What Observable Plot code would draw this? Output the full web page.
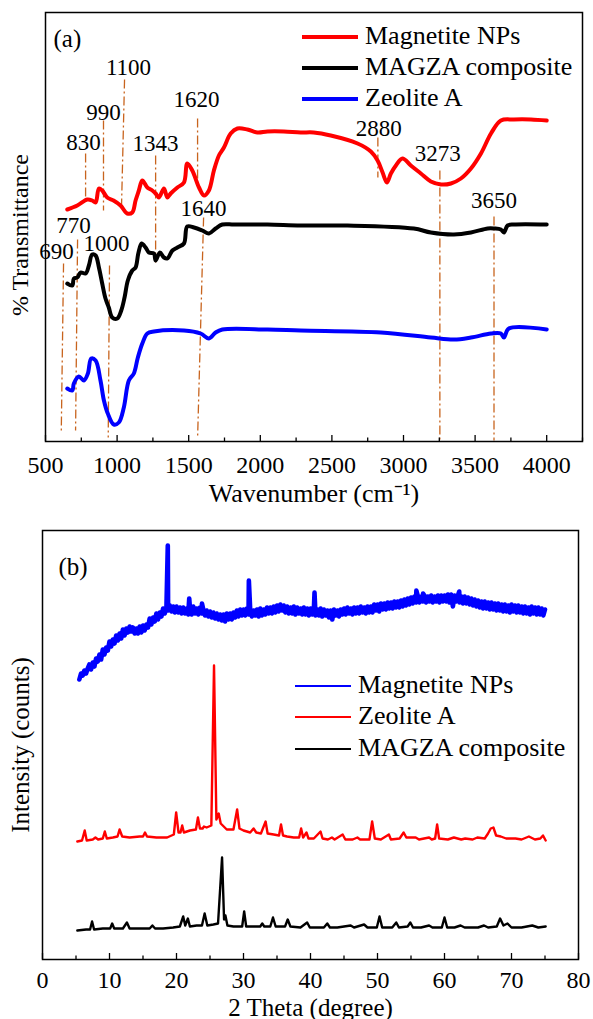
<!DOCTYPE html>
<html>
<head>
<meta charset="utf-8">
<script src="https://cdn.jsdelivr.net/npm/d3@7"></script>
<script src="https://cdn.jsdelivr.net/npm/@observablehq/plot@0.6"></script>
<style>
  body { margin: 0; background: #fff; }
  #wrap { position: relative; width: 593px; height: 1019px; overflow: hidden;
          font-family: "Liberation Serif", "Times New Roman", serif; color: #000; }
  #wrap svg { display: block; }
  .row { position: absolute; white-space: nowrap; font-size: 26px; line-height: 26px; }
  .row .sw { position: absolute; left: 0; width: 56px; }
  .row .t { position: absolute; top: -14px; }
</style>
</head>
<body>
<div id="wrap"></div>
<script>
// ---------------- Panel (a): FTIR ----------------
const ftirSeriesNames = ["Magnetite NPs", "MAGZA composite", "Zeolite A"];
const ftirColors = ["#ff0000", "#000000", "#0000ff"];
const ftirTicks = [500, 1000, 1500, 2000, 2500, 3000, 3500, 4000];
const ftirMinorTicks = [750, 1250, 1750, 2250, 2750, 3250, 3750, 4250];

// [wavenumber (cm-1), % transmittance (a.u., offset)]
const ftirMagnetite = [[652,232],[722,236],[792,242],[826,241],[850,239],[873,253],[896,251],[931,244],[975,241],[1024,236],[1071,228],[1106,229],[1129,241],[1152,251],[1176,261],[1211,254],[1246,251],[1269,248],[1292,244],[1327,253],[1351,244],[1374,248],[1421,254],[1467,259],[1490,278],[1525,271],[1572,254],[1607,246],[1641,251],[1676,271],[1711,286],[1746,294],[1793,308],[1840,313],[1910,312],[1980,309],[2050,310],[2164,310],[2282,309],[2373,309],[2492,306],[2679,298],[2772,290],[2819,281],[2854,269],[2884,259],[2912,268],[2947,276],[2993,283],[3051,276],[3121,268],[3191,260],[3261,257],[3331,258],[3401,263],[3471,273],[3541,288],[3611,308],[3680,321],[3771,322],[3890,322],[4000,321]];
const ftirMagza = [[652,158],[687,156],[698,163],[722,164],[745,169],[780,168],[803,176],[826,187],[850,186],[873,174],[896,158],[919,143],[942,134],[966,124],[1001,123],[1029,131],[1052,144],[1075,161],[1106,171],[1129,174],[1148,188],[1171,198],[1199,194],[1222,189],[1257,188],[1269,181],[1299,189],[1327,184],[1351,183],[1386,191],[1421,194],[1467,198],[1490,215],[1537,214],[1595,211],[1641,208],[1688,213],[1735,217],[1816,217],[2050,217],[2282,216],[2609,216],[3072,213],[3191,209],[3352,207],[3471,209],[3588,213],[3632,213],[3680,212],[3701,209],[3727,216],[3771,217],[4000,217]];
const ftirZeolite = [[652,53],[687,51],[698,58],[733,65],[768,61],[796,68],[819,83],[850,81],[884,61],[908,41],[935,28],[977,17],[1012,19],[1047,34],[1082,61],[1117,68],[1145,84],[1176,98],[1211,108],[1257,110],[1467,111],[1583,108],[1641,103],[1688,109],[1735,112],[2050,112],[2282,111],[2842,109],[3191,104],[3352,102],[3471,104],[3611,108],[3680,108],[3701,104],[3736,113],[4000,112]];

// band annotations: label, line top (wn, T), line bottom (wn, T), label anchor (wn, T)
const bandLabels   = ["830","990","1100","1343","1620","1640","2880","3273","3650","690","770","1000"];
const bandTopWn    = [780, 905, 1052, 1269, 1562, 1604, 2821, 3254, 3632, 626, 724, 947];
const bandTopT     = [288, 321, 362, 286, 323, 224, 304, 271, 225, 178, 202, 176];
const bandBottomWn = [780, 905, 1031, 1269, 1562, 1562, 2821, 3254, 3632, 610, 710, 938];
const bandBottomT  = [244, 231, 236, 179, 254, 3, 264, 1, 1, 8, 11, 4];
const bandLabelWn  = [766, 905, 1080, 1269, 1555, 1604, 2828, 3240, 3632, 577, 696, 926];
const bandLabelT   = [299, 329, 374, 298, 342, 233, 313, 288, 241, 190, 216, 198];

// ---------------- Panel (b): XRD ----------------
const xrdSeriesNames = ["Magnetite NPs", "Zeolite A", "MAGZA composite"];
const xrdColors = ["#0000ff", "#ff0000", "#000000"];
const xrdTicks = [0, 10, 20, 30, 40, 50, 60, 70, 80];
const xrdMinorTicks = [5, 15, 25, 35, 45, 55, 65, 75];

// Magnetite NPs: noisy pattern read every 0.25 degree from 5.5 to 75
const xrdMagnetiteStart = 5.5, xrdMagnetiteStep = 0.25;
const xrdMagnetiteCounts = [
  280,286,
  284,289,286,291, 295,290,297,293, 301,298,305,300, 310,305,312,309, 318,313,320,316,
  324,319,326,321, 330,324,331,327, 333,328,332,326, 331,326,333,327, 334,329,335,332,
  341,335,342,338, 346,340,347,343, 351,346,353,349, 354,348,353,347, 353,347,352,346,
  352,346,351,345, 352,345,353,346, 351,345,352,346, 350,344,349,343, 348,342,347,341,
  346,340,345,339, 345,338,346,340, 346,340,347,342, 349,343,350,344, 350,344,351,345,
  350,343,349,344, 350,343,351,344, 350,345,352,346, 352,346,353,347, 354,348,355,349,
  354,347,353,346, 352,346,353,345, 352,346,351,345, 352,345,351,344, 351,345,350,344,
  350,344,351,343, 350,344,349,342, 349,340,350,344, 349,343,350,345, 351,345,352,346,
  351,345,352,346, 352,346,353,347, 352,346,353,347, 353,347,355,349, 355,348,356,350,
  356,350,357,351, 357,351,358,352, 358,352,359,353, 360,354,361,355, 362,356,363,357,
  364,357,363,358, 364,357,363,358, 364,357,363,358, 364,357,364,358, 364,358,365,357,
  365,353,364,358, 364,357,363,356, 363,356,362,355, 361,354,360,353, 359,352,358,351,
  358,351,357,350, 357,350,356,349, 356,349,355,348, 355,348,354,347, 355,348,354,347,
  354,347,353,346, 353,346,352,345, 353,346,352,345, 352,345,351,344,
  350];
const xrdMagnetiteSpikes = [[18.7,414],[21.9,361],[23.8,356],[30.8,379],[40.6,367],[55.8,369],[56.8,366],[62.2,368]];

const xrdZeolite = [[5.2,118],[5.9,119],[6.3,129],[6.6,119],[7.5,120],[7.9,122],[8.3,120],[9.0,121],[9.3,128],[9.6,121],[10.5,122],[11.2,123],[11.5,130],[11.9,123],[13,122],[14.5,123],[15.0,123],[15.3,127],[15.6,123],[17,122],[18.6,122],[19.6,125],[19.95,147],[20.3,127],[20.6,127],[20.85,134],[21.1,127],[22.0,129],[22.9,130],[23.2,142],[23.5,131],[23.9,131],[24.1,133],[24.5,132],[25.2,134],[25.6,294],[25.95,140],[26.3,146],[26.6,136],[27.5,130],[28.5,130],[29.05,150],[29.4,131],[30,129],[31.0,127],[31.5,131],[31.9,127],[32.6,126],[33.3,138],[33.6,126],[34.5,125],[35.3,124],[35.6,135],[35.9,124],[36.5,123],[37.5,122],[38.3,122],[38.6,131],[38.9,122],[39.4,127],[39.7,121],[40.5,121],[41.5,128],[41.8,121],[42.6,120],[43.2,122],[43.6,120],[44.8,125],[45.2,120],[46.3,120],[47,122],[47.4,120],[48.8,120],[49.2,138],[49.6,121],[50.5,120],[51.7,125],[52.0,120],[53.3,121],[53.9,127],[54.3,122],[55.7,122],[56.2,120],[57.7,122],[58.1,120],[58.6,121],[58.9,135],[59.2,121],[60.5,120],[61.4,122],[62.5,120],[63.1,121],[64.2,120],[64.9,122],[66,121],[66.5,126],[66.9,131],[67.3,132],[67.7,124],[68.4,123],[69.2,121],[70.6,121],[71.5,120],[72.6,123],[73.5,120],[74.3,121],[74.7,124],[75.1,119]];

const xrdMagza = [[5.2,29],[6.5,30],[7.1,30],[7.4,38],[7.7,30],[9,31],[10.1,31],[10.4,36],[10.7,31],[12.0,31],[12.6,37],[13.0,31],[14.5,31],[16.0,31],[16.4,34],[16.8,31],[18,31],[19.5,32],[20.5,33],[21.0,43],[21.3,34],[21.7,41],[22.0,33],[23,34],[23.8,34],[24.2,46],[24.6,34],[25.5,35],[26.2,36],[26.8,102],[27.1,40],[27.3,44],[27.6,34],[28.5,33],[29.8,33],[30.1,48],[30.4,33],[31.5,33],[32.5,33],[32.8,36],[33.1,33],[34.0,33],[34.4,42],[34.8,33],[35.5,33],[36.2,33],[36.6,40],[37.0,33],[38.5,32],[39.5,37],[39.9,32],[41,32],[42.0,32],[42.5,36],[42.9,32],[44,32],[46,34],[46.5,32],[48,35],[48.5,32],[49.9,32],[50.3,43],[50.7,32],[52.2,32],[52.8,37],[53.2,32],[54.5,33],[54.9,37],[55.3,32],[56.5,32],[57.7,34],[58.2,32],[59.6,32],[60.0,42],[60.4,32],[61.5,32],[62.4,34],[63,32],[65,32],[65.9,34],[66.5,32],[67.8,33],[68.3,41],[68.8,34],[69.4,36],[70,32],[71.5,32],[73.1,34],[74,32],[75.1,33]];

// ---------------- build ----------------
const FONT = '"Liberation Serif", "Times New Roman", serif';
const ANNOT = "#c8641e";
const wrap = document.getElementById("wrap");

const bands = bandLabels.map((label, i) => ({
  label, x1: bandTopWn[i], y1: bandTopT[i], x2: bandBottomWn[i], y2: bandBottomT[i],
  lx: bandLabelWn[i], ly: bandLabelT[i]
}));

function axisMarks(major, minor, labelDy) {
  return [
    Plot.axisX(major, {tickSize: -6, tickFormat: () => "", label: null, strokeWidth: 1.3}),
    Plot.axisX(minor, {tickSize: -3.5, tickFormat: () => "", label: null, strokeWidth: 1.3}),
    Plot.text(major, {x: d => d, frameAnchor: "bottom", dy: labelDy, text: d => String(d),
      lineAnchor: "middle", textAnchor: "middle", fontSize: 24, fill: "black"})
  ];
}

const plotA = Plot.plot({
  width: 593, height: 510,
  marginTop: 12, marginBottom: 69, marginLeft: 45, marginRight: 11,
  style: {fontFamily: FONT, background: "white", color: "black", overflow: "visible"},
  x: {domain: [500, 4250]},
  y: {domain: [0, 429], axis: null},
  marks: [
    Plot.link(bands, {x1: "x1", y1: "y1", x2: "x2", y2: "y2", stroke: ANNOT, strokeWidth: 1.3,
      strokeDasharray: "9,3,2,3"}),
    Plot.text(bands, {x: "lx", y: "ly", text: "label", fontSize: 23, fill: "black", lineAnchor: "middle"}),
    Plot.line(ftirZeolite, {x: d => d[0], y: d => d[1], stroke: ftirColors[2], strokeWidth: 4, curve: "catmull-rom"}),
    Plot.line(ftirMagza, {x: d => d[0], y: d => d[1], stroke: ftirColors[1], strokeWidth: 4, curve: "catmull-rom"}),
    Plot.line(ftirMagnetite, {x: d => d[0], y: d => d[1], stroke: ftirColors[0], strokeWidth: 4, curve: "catmull-rom"}),
    ...axisMarks(ftirTicks, ftirMinorTicks, 24),
    Plot.text(["Wavenumber (cm\u207B\u00B9)"], {frameAnchor: "bottom", dy: 52, fontSize: 26, lineAnchor: "middle", textAnchor: "middle", fill: "black"}),
    Plot.text(["% Transmittance"], {frameAnchor: "left", dx: -25, dy: 8, rotate: -90, fontSize: 24, lineAnchor: "middle", textAnchor: "middle", fill: "black"}),
    Plot.text(["(a)"], {frameAnchor: "top-left", dx: 8, dy: 26, fontSize: 25, textAnchor: "start", lineAnchor: "middle", fill: "black"}),
    Plot.frame({stroke: "black", strokeWidth: 1.5})
  ]
});

const xrdMagnetite = xrdMagnetiteCounts
  .map((c, i) => [xrdMagnetiteStart + i * xrdMagnetiteStep, c])
  .concat(xrdMagnetiteSpikes)
  .sort((a, b) => a[0] - b[0]);

const plotB = Plot.plot({
  width: 593, height: 509,
  marginTop: 20, marginBottom: 60, marginLeft: 42, marginRight: 15,
  style: {fontFamily: FONT, background: "white", color: "black", overflow: "visible"},
  x: {domain: [0, 80]},
  y: {domain: [0, 429], axis: null},
  marks: [
    Plot.line(xrdMagza, {x: d => d[0], y: d => d[1], stroke: xrdColors[2], strokeWidth: 2.4}),
    Plot.line(xrdZeolite, {x: d => d[0], y: d => d[1], stroke: xrdColors[1], strokeWidth: 2.4}),
    Plot.line(xrdMagnetite, {x: d => d[0], y: d => d[1], stroke: xrdColors[0], strokeWidth: 4.6, strokeLinejoin: "round"}),
    ...axisMarks(xrdTicks, xrdMinorTicks, 21),
    Plot.text(["2 Theta (degree)"], {frameAnchor: "bottom", dy: 48, fontSize: 25, lineAnchor: "middle", textAnchor: "middle", fill: "black"}),
    Plot.text(["Intensity (counts)"], {frameAnchor: "left", dx: -22, rotate: -90, fontSize: 25, lineAnchor: "middle", textAnchor: "middle", fill: "black"}),
    Plot.text(["(b)"], {frameAnchor: "top-left", dx: 16, dy: 36, fontSize: 25, textAnchor: "start", lineAnchor: "middle", fill: "black"}),
    Plot.frame({stroke: "black", strokeWidth: 1.5})
  ]
});

wrap.appendChild(plotA);
wrap.appendChild(plotB);

function legend(names, colors, left, tops, thickness) {
  names.forEach((name, i) => {
    const row = document.createElement("div");
    row.className = "row";
    row.style.left = left + "px";
    row.style.top = tops[i] + "px";
    const sw = document.createElement("div");
    sw.className = "sw";
    sw.style.height = thickness + "px";
    sw.style.top = (-thickness / 2) + "px";
    sw.style.background = colors[i];
    const t = document.createElement("span");
    t.className = "t";
    t.style.left = "63px";
    t.textContent = name;
    row.appendChild(sw);
    row.appendChild(t);
    wrap.appendChild(row);
  });
}
legend(ftirSeriesNames, ftirColors, 302, [37, 68, 99], 4);
legend(xrdSeriesNames, xrdColors, 295, [686, 717, 749], 2.5);
</script>
</body>
</html>
